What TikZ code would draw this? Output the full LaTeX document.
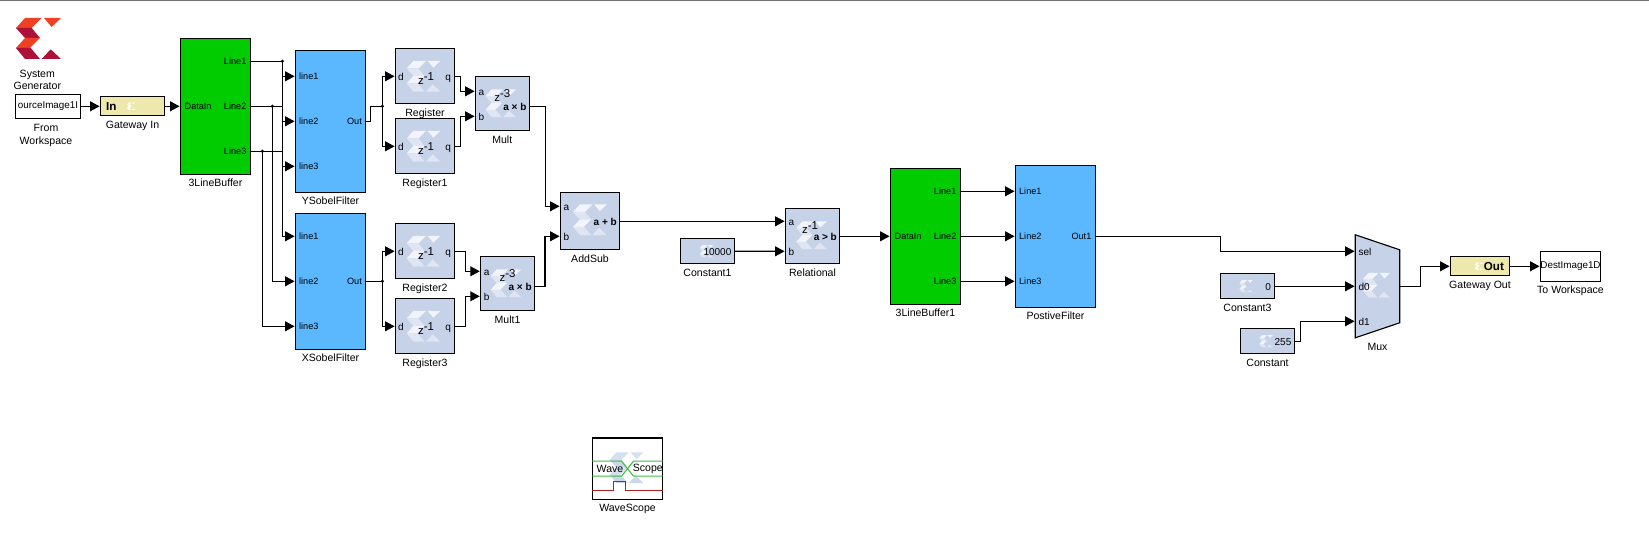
\documentclass[tikz,border=0pt]{standalone}
\usepackage{fontspec}
\setmainfont{Liberation Sans}
\usetikzlibrary{arrows.meta, positioning}
\definecolor{bufgreen}{HTML}{00CC00}
\definecolor{filterblue}{HTML}{5BB8FF}
\definecolor{xblue}{HTML}{C5D2E8}
\definecolor{gateyellow}{HTML}{EFE8AC}
\definecolor{logored}{HTML}{EE4023}
\definecolor{logodark}{HTML}{AE1038}
\definecolor{wmhi}{HTML}{F2F4FA}
\definecolor{wmlo}{HTML}{DFE5F2}
\definecolor{wavegreen}{HTML}{3CC03C}
\definecolor{wavered}{HTML}{B02020}
\newcommand{\xlogo}[4]{%
  \begin{scope}[shift={#1}, scale=#2]
    \fill[#3] (-.27,.41) -- (.064,.41) -- (-.136,.21) -- (-.45,.21) -- cycle;
    \fill[#3] (.11,.41) -- (.45,.41) -- (.264,.23) -- cycle;
    \fill[#4] (-.45,.21) -- (-.136,.21) -- (.03,.01) -- (-.27,.01) -- cycle;
    \fill[#3] (-.27,.01) -- (.03,.01) -- (-.17,-.19) -- (-.45,-.19) -- cycle;
    \fill[#4] (-.45,-.19) -- (-.156,-.19) -- (.03,-.41) -- (-.27,-.41) -- cycle;
    \fill[#4] (.244,-.216) -- (.45,-.41) -- (.064,-.41) -- cycle;
  \end{scope}}
\newcommand{\zdelay}[1]{z\raisebox{.65ex}{-#1}}

\begin{document}
\begin{tikzpicture}[
    on grid,
    every node/.style={font=\fontsize{6}{7.2}\selectfont},
    block/.style={rectangle, draw=black, line width=0.65pt, outer sep=0pt, inner sep=0pt},
    buffer/.style={block, fill=bufgreen, minimum width=1.408cm, minimum height=2.72cm},
    filter/.style={block, fill=filterblue, minimum width=1.408cm, minimum height=2.72cm},
    xreg/.style={block, fill=xblue, minimum width=1.188cm, minimum height=1.1cm},
    xmult/.style={block, fill=xblue, minimum width=1.08cm, minimum height=1.08cm},
    xconst/.style={block, fill=xblue, minimum width=1.088cm, minimum height=0.5cm},
    gateway/.style={block, fill=gateyellow, minimum width=1.288cm, minimum height=0.385cm},
    wks/.style={block, fill=white, font=\fontsize{5.6}{7}\selectfont},
    portl/.style={on grid=false, inner sep=0pt, text height=4pt, text depth=0pt, font=\fontsize{5.2}{7}\selectfont},
    portr/.style={portl},
    xport/.style={portl, text height=4.4pt, font=\fontsize{5.7}{7}\selectfont},
    strong/.style={portl, text height=4.4pt, font=\fontsize{5.7}{7}\selectfont\bfseries},
    gatelabel/.style={portl, text height=4.6pt, font=\fontsize{6.6}{7.2}\selectfont\bfseries},
    delay/.style={inner sep=0pt, font=\fontsize{6.5}{7.2}\selectfont},
    caption/.style={align=center, inner sep=0pt},
    junction/.style={circle, fill=black, inner sep=0pt, minimum size=0.07cm},
    wire/.style={line width=0.7pt, black},
    arrow/.style={wire, -{Triangle[length=5.4pt, width=5.6pt]}, shorten >=0.4pt}
]
\useasboundingbox (0,0) rectangle (32.98,-10.8);
\draw[line width=1pt, black!55] (0,-0.01) -- (32.98,-0.01);

% Bloques
\node[wks, minimum width=1.308cm, minimum height=0.48cm] (fromws) at (0.96,-2.126) {ourceImage1I};
\node[inner sep=0pt, minimum width=0.9cm, minimum height=0.82cm, above left=1.356cm and 0.19cm of fromws] (logo) {};
\node[caption, above left=0.532cm and 0.214cm of fromws] (sysgen) {System\\[0pt]Generator};
\node[gateway, right=1.69cm of fromws] (gwin) {};
\node[buffer, right=1.66cm of gwin] (buf) {};
\node[filter, minimum height=2.84cm, below right=0.3cm and 2.3cm of buf] (ysobel) {};
\node[filter, below=3.2cm of ysobel] (xsobel) {};
\node[xreg, above right=0.9cm and 1.89cm of ysobel] (reg) {};
\node[xreg, below=1.4cm of reg] (reg1) {};
\node[xreg, above right=0.6cm and 1.89cm of xsobel] (reg2) {};
\node[xreg, below=1.5cm of reg2] (reg3) {};
\node[xmult, below right=0.54cm and 1.546cm of reg] (mult) {};
\node[xmult, below right=0.64cm and 1.65cm of reg2] (mult1) {};
\node[xreg, minimum height=1.14cm, below right=2.36cm and 1.754cm of mult] (addsub) {};
\node[xconst, below right=0.6cm and 2.35cm of addsub] (const1) {};
\node[xmult, minimum width=1.088cm, minimum height=1.1cm, below right=0.3cm and 4.45cm of addsub] (rel) {};
\node[buffer, right=2.26cm of rel] (buf1) {};
\node[filter, minimum width=1.608cm, minimum height=2.84cm, right=2.6cm of buf1] (post) {};
\node[xconst, below right=1cm and 3.84cm of post] (const3) {};
\node[xconst, below right=1.1cm and 0.4cm of const3] (const) {};
\node[inner sep=0pt, outer sep=0pt, minimum width=0.888cm, minimum height=2.06cm, right=2.6cm of const3] (mux) {};
\node[gateway, minimum width=1.188cm, above right=0.4cm and 2.05cm of mux] (gwout) {};
\node[wks, minimum width=1.208cm, minimum height=0.6cm, right=1.81cm of gwout] (towks) {DestImage1D};
\node[wks, minimum width=1.408cm, minimum height=1.226cm, below right=4.948cm and 0.75cm of addsub] (wave) {};

% Forma del mux
\draw[line width=0.65pt, fill=xblue] (mux.north west) -- ([yshift=-0.3cm]mux.north east) -- ([yshift=0.3cm]mux.south east) -- (mux.south west) -- cycle;

% Logos
\xlogo{(logo.center)}{1}{logored}{logodark}
\xlogo{([xshift=-0.03cm]reg.center)}{0.75}{wmhi}{wmlo}
\xlogo{([xshift=-0.03cm]reg1.center)}{0.75}{wmhi}{wmlo}
\xlogo{([xshift=-0.03cm]reg2.center)}{0.75}{wmhi}{wmlo}
\xlogo{([xshift=-0.03cm]reg3.center)}{0.75}{wmhi}{wmlo}
\xlogo{([xshift=-0.03cm]mult.center)}{0.68}{wmhi}{wmlo}
\xlogo{([xshift=-0.03cm]mult1.center)}{0.68}{wmhi}{wmlo}
\xlogo{([yshift=0.03cm]addsub.center)}{0.75}{wmhi}{wmlo}
\xlogo{([xshift=-0.02cm,yshift=0.02cm]rel.center)}{0.68}{wmhi}{wmlo}
\xlogo{([xshift=-0.02cm]const1.center)}{0.3}{wmhi}{wmlo}
\xlogo{([xshift=-0.03cm]const3.center)}{0.3}{wmhi}{wmlo}
\xlogo{([xshift=-0.03cm]const.center)}{0.3}{wmhi}{wmlo}
\xlogo{([xshift=-0.03cm]gwin.center)}{0.18}{white}{white}
\xlogo{([xshift=-0.02cm]gwout.center)}{0.18}{white}{white}
\xlogo{([xshift=-0.02cm,yshift=0.02cm]mux.center)}{0.6}{wmhi}{wmlo}
\xlogo{([xshift=-0.02cm,yshift=0.02cm]wave.center)}{0.75}{xblue!70}{xblue!90}

% Trazas del WaveScope
\draw[wavegreen, line width=0.6pt] ([yshift=0.15cm]wave.west) -- ([xshift=-0.12cm,yshift=0.15cm]wave.center) -- ([xshift=0.12cm,yshift=-0.15cm]wave.center) -- ([yshift=-0.15cm]wave.east);
\draw[wavegreen, line width=0.6pt] ([yshift=-0.15cm]wave.west) -- ([xshift=-0.12cm,yshift=-0.15cm]wave.center) -- ([xshift=0.12cm,yshift=0.15cm]wave.center) -- ([yshift=0.15cm]wave.east);
\draw[wavered, line width=0.6pt] ([yshift=-0.43cm]wave.west) -- ([xshift=-0.28cm,yshift=-0.43cm]wave.center) -- ([xshift=-0.28cm,yshift=-0.25cm]wave.center) -- ([xshift=-0.04cm,yshift=-0.25cm]wave.center) -- ([xshift=-0.04cm,yshift=-0.43cm]wave.center) -- ([yshift=-0.43cm]wave.east);

% Textos de los bloques
\node[gatelabel, right=0.11cm of gwin.west] (gwinlbl) {In};
\node[gatelabel, left=0.11cm of gwout.east] (gwoutlbl) {Out};
\node[portl, right=0.08cm of buf.west] (bufin) {DataIn};
\node[portr, left=0.08cm of buf.east, yshift=0.9cm] (bufl1) {Line1};
\node[portr, left=0.08cm of buf.east] (bufl2) {Line2};
\node[portr, left=0.08cm of buf.east, yshift=-0.9cm] (bufl3) {Line3};
\node[portl, right=0.07cm of ysobel.west, yshift=0.9cm] (ysl1) {line1};
\node[portl, right=0.07cm of ysobel.west] (ysl2) {line2};
\node[portl, right=0.07cm of ysobel.west, yshift=-0.9cm] (ysl3) {line3};
\node[portr, left=0.07cm of ysobel.east] (ysout) {Out};
\node[portl, right=0.07cm of xsobel.west, yshift=0.9cm] (xsl1) {line1};
\node[portl, right=0.07cm of xsobel.west] (xsl2) {line2};
\node[portl, right=0.07cm of xsobel.west, yshift=-0.9cm] (xsl3) {line3};
\node[portr, left=0.07cm of xsobel.east] (xsout) {Out};

\node[xport, right=0.05cm of reg.west] (regd) {d};
\node[xport, left=0.07cm of reg.east] (regq) {q};
\node[delay, right=0.02cm of reg, yshift=-0.04cm] (regz) {\zdelay{1}};
\node[xport, right=0.05cm of reg1.west] (reg1d) {d};
\node[xport, left=0.07cm of reg1.east] (reg1q) {q};
\node[delay, right=0.02cm of reg1, yshift=-0.04cm] (reg1z) {\zdelay{1}};
\node[xport, right=0.05cm of reg2.west] (reg2d) {d};
\node[xport, left=0.07cm of reg2.east] (reg2q) {q};
\node[delay, right=0.02cm of reg2, yshift=-0.04cm] (reg2z) {\zdelay{1}};
\node[xport, right=0.05cm of reg3.west] (reg3d) {d};
\node[xport, left=0.07cm of reg3.east] (reg3q) {q};
\node[delay, right=0.02cm of reg3, yshift=-0.04cm] (reg3z) {\zdelay{1}};

\node[xport, right=0.06cm of mult.west, yshift=0.24cm] (multa) {a};
\node[xport, right=0.06cm of mult.west, yshift=-0.26cm] (multb) {b};
\node[strong, left=0.05cm of mult.east, yshift=-0.06cm] (multout) {a × b};
\node[delay, yshift=0.16cm] at (mult) (multz) {\zdelay{3}};
\node[xport, right=0.06cm of mult1.west, yshift=0.24cm] (mult1a) {a};
\node[xport, right=0.06cm of mult1.west, yshift=-0.26cm] (mult1b) {b};
\node[strong, left=0.05cm of mult1.east, yshift=-0.06cm] (mult1out) {a × b};
\node[delay, yshift=0.16cm] at (mult1) (mult1z) {\zdelay{3}};

\node[xport, right=0.06cm of addsub.west, yshift=0.3cm] (adda) {a};
\node[xport, right=0.06cm of addsub.west, yshift=-0.3cm] (addb) {b};
\node[strong, left=0.05cm of addsub.east] (addout) {a + b};
\node[xport, right=0.06cm of rel.west, yshift=0.3cm] (rela) {a};
\node[xport, right=0.06cm of rel.west, yshift=-0.3cm] (relb) {b};
\node[strong, left=0.05cm of rel.east] (relout) {a > b};
\node[delay, yshift=0.18cm, xshift=-0.05cm] at (rel) (relz) {\zdelay{1}};
\node[xport, left=0.06cm of const1.east] (const1v) {10000};
\node[xport, left=0.07cm of const3.east] (const3v) {0};
\node[xport, left=0.06cm of const.east] (constv) {255};

\node[portl, right=0.08cm of buf1.west] (buf1in) {DataIn};
\node[portr, left=0.08cm of buf1.east, yshift=0.9cm] (buf1l1) {Line1};
\node[portr, left=0.08cm of buf1.east] (buf1l2) {Line2};
\node[portr, left=0.08cm of buf1.east, yshift=-0.9cm] (buf1l3) {Line3};
\node[portl, right=0.07cm of post.west, yshift=0.9cm] (postl1) {Line1};
\node[portl, right=0.07cm of post.west] (postl2) {Line2};
\node[portl, right=0.07cm of post.west, yshift=-0.9cm] (postl3) {Line3};
\node[portr, left=0.08cm of post.east] (postout) {Out1};
\node[xport, right=0.06cm of mux.west, yshift=0.7cm] (muxsel) {sel};
\node[xport, right=0.06cm of mux.west] (muxd0) {d0};
\node[xport, right=0.06cm of mux.west, yshift=-0.7cm] (muxd1) {d1};
\node[delay, font=\fontsize{6}{7.2}\selectfont, xshift=-0.35cm] at (wave) (wavel) {Wave};
\node[delay, font=\fontsize{6}{7.2}\selectfont, xshift=0.1cm, anchor=west] at (wave.center) (waver) {Scope};

% Rotulos
\node[caption, below=0.12cm of fromws.south, xshift=-0.04cm] (fromwscap) {From\\[0pt]Workspace};
\node[caption, below=0.095cm of gwin.south] (gwincap) {Gateway In};
\node[caption, below=0.085cm of buf.south] (bufcap) {3LineBuffer};
\node[caption, below=0.085cm of ysobel.south] (yscap) {YSobelFilter};
\node[caption, below=0.085cm of xsobel.south] (xscap) {XSobelFilter};
\node[caption, below=0.095cm of reg.south] (regcap) {Register};
\node[caption, below=0.095cm of reg1.south] (reg1cap) {Register1};
\node[caption, below=0.095cm of reg2.south] (reg2cap) {Register2};
\node[caption, below=0.095cm of reg3.south] (reg3cap) {Register3};
\node[caption, below=0.095cm of mult.south] (multcap) {Mult};
\node[caption, below=0.095cm of mult1.south] (mult1cap) {Mult1};
\node[caption, below=0.095cm of addsub.south] (addcap) {AddSub};
\node[caption, below=0.095cm of const1.south] (const1cap) {Constant1};
\node[caption, below=0.095cm of rel.south] (relcap) {Relational};
\node[caption, below=0.085cm of buf1.south] (buf1cap) {3LineBuffer1};
\node[caption, below=0.085cm of post.south] (postcap) {PostiveFilter};
\node[caption, below=0.095cm of const3.south] (const3cap) {Constant3};
\node[caption, below=0.095cm of const.south] (constcap) {Constant};
\node[caption, below=0.105cm of mux.south] (muxcap) {Mux};
\node[caption, below=0.095cm of gwout.south] (gwoutcap) {Gateway Out};
\node[caption, below=0.085cm of towks.south] (towkscap) {To Workspace};
\node[caption, below=0.095cm of wave.south] (wavecap) {WaveScope};

% Uniones
\node[junction, right=0.59cm of buf.east, yshift=0.9cm] (jl1) {};
\node[junction, right=0.39cm of buf.east] (jl2) {};
\node[junction, right=0.19cm of buf.east, yshift=-0.9cm] (jl3) {};
\node[junction, right=0.29cm of ysobel.east, yshift=0.3cm] (jys) {};
\node[junction, right=0.29cm of xsobel.east] (jxs) {};

% Conexiones
\draw[arrow] (fromws) -- (gwin);
\draw[arrow] (gwin) -- (buf);
\draw[wire] (buf.east |- bufl1) -- (jl1.center);
\draw[wire] (buf.east |- bufl2) -- (jl1.center |- bufl2);
\draw[wire] (buf.east |- bufl3) -- (jl1.center |- bufl3);
\draw[arrow] (jl1.center) |- (ysobel.west |- ysl1);
\draw[arrow] (jl1.center) |- (ysobel.west |- ysl2);
\draw[arrow] (jl1.center) |- (ysobel.west |- ysl3);
\draw[arrow] (jl1.center) |- (xsobel.west |- xsl1);
\draw[arrow] (jl2.center) |- (xsobel.west |- xsl2);
\draw[arrow] (jl3.center) |- (xsobel.west |- xsl3);
\draw[wire] (ysobel.east) -- ++(0.09,0) |- (jys.center);
\draw[wire] (xsobel) -- (jxs.center);
\draw[arrow] (jys.center) |- (reg);
\draw[arrow] (jys.center) |- (reg1);
\draw[arrow] (jxs.center) |- (reg2);
\draw[arrow] (jxs.center) |- (reg3);
\draw[arrow] (reg.east) -- ++(0.11,0) |- (mult.west |- multa);
\draw[arrow] (reg1.east) -- ++(0.11,0) |- (mult.west |- multb);
\draw[arrow] (reg2.east) -- ++(0.21,0) |- (mult1.west |- mult1a);
\draw[arrow] (reg3.east) -- ++(0.21,0) |- (mult1.west |- mult1b);
\draw[arrow] (mult.east |- multout) -- ++(0.32,0) |- (addsub.west |- adda);
\draw[arrow] (mult1.east |- mult1out) -- ++(0.21,0) |- (addsub.west |- addb);
\draw[arrow] (addsub) -- (rel.west |- rela);
\draw[arrow] (const1) -- (rel.west |- relb);
\draw[arrow] (rel) -- (buf1);
\draw[arrow] (buf1.east |- buf1l1) -- (post.west |- postl1);
\draw[arrow] (buf1) -- (post);
\draw[arrow] (buf1.east |- buf1l3) -- (post.west |- postl3);
\draw[arrow] (post.east) -- ++(2.49,0) |- (mux.west |- muxsel);
\draw[arrow] (const3) -- (mux.west |- muxd0);
\draw[arrow] (const.east) -- ++(0.11,0) |- (mux.west |- muxd1);
\draw[arrow] (mux.east) -- ++(0.41,0) |- (gwout);
\draw[arrow] (gwout) -- (towks);

\end{tikzpicture}
\end{document}
